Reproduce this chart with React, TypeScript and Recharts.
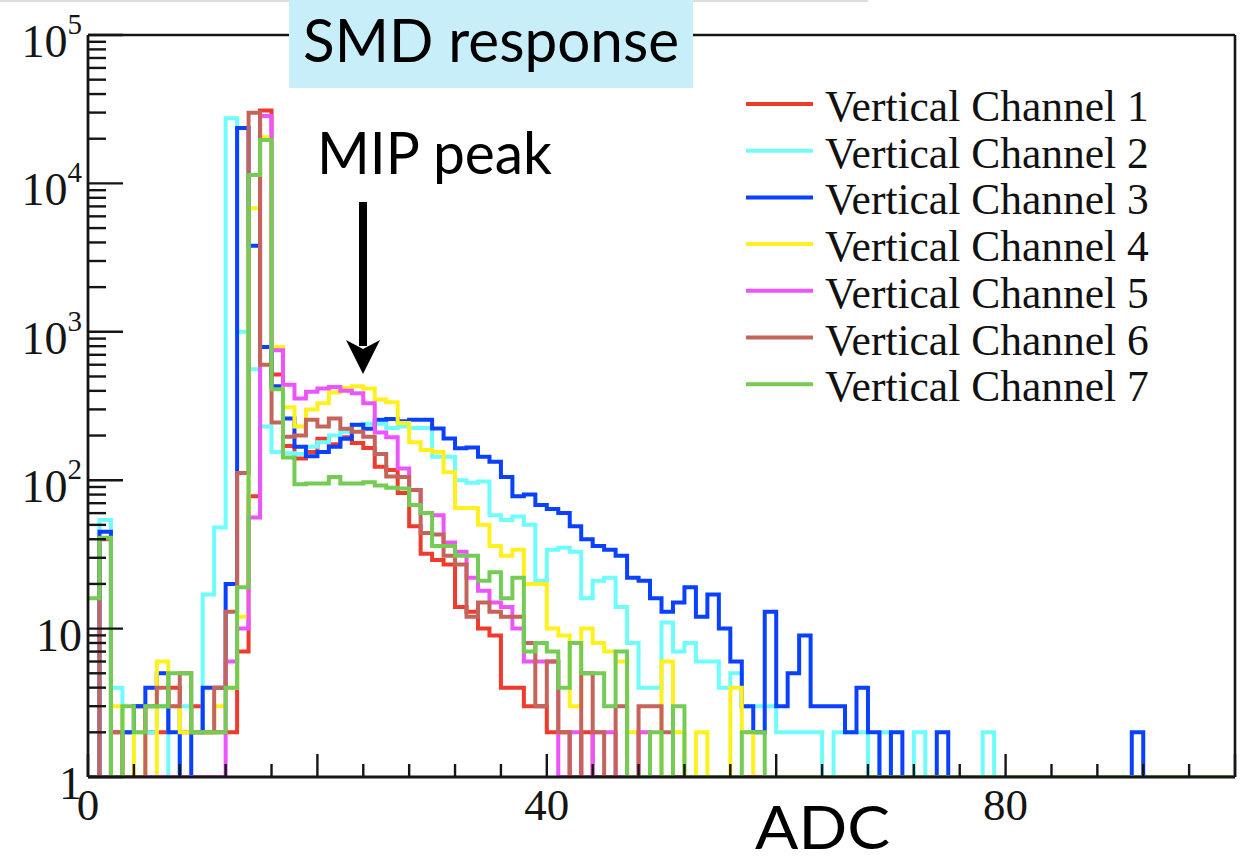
import React from 'react';
import { LineChart, Line, XAxis, YAxis, ReferenceLine, Legend } from 'recharts';

// ADC bins 0..99 (bin width 1). Counts per bin; bins not listed are 0.
const channel1 = [0, 0, 2, 2, 3, 2, 2, 4, 2, 3, 2, 2, 2, 7, 78, 31000, 515, 170, 140, 155, 190, 175, 195, 178, 165, 123, 117, 82, 49, 32, 29, 27, 14, 13, 10, 9, 4, 4, 3, 3, 2, 2, 0, 2];
const channel2 = [0, 54, 4, 2, 2, 2, 3, 0, 3, 2, 17, 48, 27500, 1000, 560, 230, 155, 152, 150, 168, 180, 200, 212, 235, 240, 240, 225, 230, 225, 225, 144, 144, 100, 96, 98, 58, 54, 57, 50, 21, 34, 35, 33, 16, 21, 22, 14, 8, 4, 4, 11, 7, 8, 6, 6, 4, 5, 3, 3, 3, 2, 2, 2, 2, 0, 2, 2, 2, 0, 2, 0, 0, 2, 0, 0, 0, 0, 0, 2];
const channel3 = [0, 45, 0, 2, 3, 4, 5, 2, 0, 2, 4, 4, 20, 23600, 3800, 790, 430, 260, 168, 145, 155, 168, 190, 236, 222, 255, 258, 250, 255, 255, 223, 191, 164, 166, 144, 133, 105, 78, 80, 68, 64, 60, 49, 40, 36, 34, 31, 22, 21, 16, 13, 15, 19, 12, 17, 10, 6, 3, 2, 13, 3, 5, 9, 3, 3, 3, 2, 4, 2, 0, 2, 0, 0, 0, 2, 0, 0, 0, 0, 0, 0, 0, 0, 0, 0, 0, 0, 0, 0, 0, 0, 2];
const channel4 = [0, 0, 3, 0, 2, 0, 6, 3, 2, 2, 2, 3, 4, 12, 6800, 20500, 790, 310, 230, 300, 330, 390, 420, 430, 415, 350, 335, 243, 180, 160, 155, 113, 65, 65, 50, 36, 31, 34, 20, 20, 10, 9, 3, 10, 8, 7, 6, 2, 2, 0, 6, 2, 0, 2, 0, 0, 4, 2];
const channel5 = [0, 0, 0, 0, 0, 0, 0, 0, 0, 0, 0, 0, 6, 10, 56, 28500, 750, 440, 355, 395, 415, 425, 400, 385, 330, 210, 195, 120, 86, 60, 58, 38, 33, 22, 18, 15, 14, 10, 6, 6, 6, 0, 2, 0, 2, 2, 0, 0, 2];
const channel6 = [0, 40, 2, 0, 0, 3, 4, 3, 5, 2, 2, 4, 13, 112, 29900, 600, 245, 196, 200, 255, 230, 260, 222, 212, 196, 150, 106, 105, 86, 44, 43, 31, 27, 12, 15, 13, 12, 12, 8, 3, 6, 2, 0, 5, 2, 0, 3, 0, 3, 3, 2];
const channel7 = [16, 41, 0, 3, 2, 3, 3, 5, 5, 2, 2, 2, 4, 19, 11400, 19600, 410, 142, 94, 95, 95, 105, 95, 95, 97, 92, 89, 88, 68, 60, 36, 36, 31, 31, 21, 24, 16, 22, 7, 8, 7, 4, 8, 5, 5, 3, 7, 0, 0, 2, 0, 3, 0, 0, 0, 0, 0, 2, 2];

const seriesNames = ['Vertical Channel 1', 'Vertical Channel 2', 'Vertical Channel 3', 'Vertical Channel 4', 'Vertical Channel 5', 'Vertical Channel 6', 'Vertical Channel 7'];
const seriesColors = ['#ee3b2b', '#6efcfc', '#0a40ff', '#fff01e', '#ec55fb', '#c4645a', '#74cc55'];
const xTickValues = Array.from({ length: 26 }, (_, i) => i * 4);
const xLabelValues = [0, 40, 80];
const yTickValues: number[] = (() => {
  const t: number[] = [];
  for (let d = 0; d < 5; d++) for (let m = 1; m <= 9; m++) t.push(m * Math.pow(10, d));
  t.push(100000);
  return t;
})();

const NBINS = 100;
const allSeries = [channel1, channel2, channel3, channel4, channel5, channel6, channel7];
const keys = allSeries.map((_, k) => 'ch' + (k + 1));

const data = (() => {
  const rows: any[] = [];
  for (let i = 0; i <= NBINS; i++) {
    const row: any = { x: i };
    allSeries.forEach((s, k) => {
      const v = s[Math.min(i, NBINS - 1)] ?? 0;
      row[keys[k]] = Math.max(v, 1);
    });
    rows.push(row);
  }
  return rows;
})();

const SERIF = '"Liberation Serif", "Times New Roman", serif';
const SANS = 'Lato, "Open Sans", sans-serif';

const XTick = (props: any) => {
  const { x, y, payload } = props;
  const v = payload.value;
  const len = v % 20 === 0 ? 23 : 13;
  return (
    <g>
      <line x1={x} x2={x} y1={y} y2={y - len} stroke="#151515" strokeWidth={2.4} />
      {xLabelValues.includes(v) ? (
        <text x={x} y={y + 43} textAnchor="middle" fontFamily={SERIF} fontSize={45} fill="#151515">
          {v}
        </text>
      ) : null}
    </g>
  );
};

const YTick = (props: any) => {
  const { x, y, payload } = props;
  const v = payload.value;
  const exp = Math.round(Math.log10(v));
  const isMajor = Math.abs(Math.pow(10, exp) - v) < 1e-6;
  let label: any = null;
  if (isMajor) {
    if (exp === 0) label = '1';
    else if (exp === 1) label = '10';
    else
      label = (
        <>
          10
          <tspan dy={-23} fontSize={29}>
            {exp}
          </tspan>
        </>
      );
  }
  return (
    <g>
      <line x1={x} x2={x + (isMajor ? 35 : 18)} y1={y} y2={y} stroke="#151515" strokeWidth={2.4} />
      {isMajor ? (
        <text x={x - 6} y={y + 22} textAnchor="end" fontFamily={SERIF} fontSize={46} fill="#151515">
          {label}
        </text>
      ) : null}
    </g>
  );
};

const LegendBox = () => (
  <svg width={440} height={340} style={{ overflow: 'visible' }}>
    {seriesNames.map((n, i) => {
      const ly = 28 + i * 46.7;
      return (
        <g key={n}>
          <line x1={6} x2={73} y1={ly} y2={ly} stroke={seriesColors[i]} strokeWidth={4} />
          <text x={85} y={ly + 17} fontFamily={SERIF} fontSize={43.5} fill="#111">
            {n}
          </text>
        </g>
      );
    })}
  </svg>
);

export default function App() {
  return (
    <div style={{ position: 'absolute', left: 0, top: 0, width: 1243, height: 861, background: '#fff', overflow: 'hidden' }}>
      <LineChart width={1243} height={861} data={data} margin={{ top: 35, right: 8, left: 0, bottom: 0 }}>
        <XAxis
          dataKey="x"
          type="number"
          domain={[0, 100]}
          ticks={xTickValues}
          interval={0}
          height={84}
          tickSize={0}
          tickMargin={0}
          tick={<XTick />}
          tickLine={false}
          axisLine={{ stroke: '#151515', strokeWidth: 2.8 }}
          allowDataOverflow
        />
        <YAxis
          type="number"
          scale="log"
          domain={[1, 100000]}
          ticks={yTickValues}
          interval={0}
          width={88}
          tickSize={0}
          tickMargin={0}
          tick={<YTick />}
          tickLine={false}
          axisLine={{ stroke: '#151515', strokeWidth: 2.8 }}
          allowDataOverflow
        />
        <ReferenceLine y={100000} stroke="#151515" strokeWidth={2.6} />
        <ReferenceLine x={100} stroke="#151515" strokeWidth={2.6} />
        {keys.map((k, i) => (
          <Line
            key={k}
            type="stepAfter"
            dataKey={k}
            name={seriesNames[i]}
            stroke={seriesColors[i]}
            strokeWidth={4}
            dot={false}
            activeDot={false}
            isAnimationActive={false}
            strokeLinejoin="miter"
            strokeLinecap="butt"
          />
        ))}
        <Legend
          layout="vertical"
          align="center"
          verticalAlign="middle"
          wrapperStyle={{ position: 'absolute', left: 740, top: 76, width: 440, height: 340 }}
          content={() => <LegendBox />}
        />
      </LineChart>
      <svg width={1243} height={861} style={{ position: 'absolute', left: 0, top: 0, pointerEvents: 'none' }}>
        <rect x={0} y={0} width={868} height={2} fill="#dcdcdc" />
        <rect x={289} y={0} width={404} height={88} fill="#c8eefa" />
        <text x={303} y={62} fontFamily={SANS} fontSize={60} fill="#000" textLength={376} lengthAdjust="spacingAndGlyphs">
          SMD response
        </text>
        <text x={317} y={174} fontFamily={SANS} fontSize={58} fill="#000" textLength={235} lengthAdjust="spacingAndGlyphs">
          MIP peak
        </text>
        <line x1={363} x2={363} y1={202} y2={346} stroke="#000" strokeWidth={8} />
        <polygon points="346,340 363,349 380,340 363,374" fill="#000" />
        <text x={755} y={849} fontFamily={SANS} fontSize={60} fill="#000" textLength={135} lengthAdjust="spacingAndGlyphs">
          ADC
        </text>
      </svg>
    </div>
  );
}
